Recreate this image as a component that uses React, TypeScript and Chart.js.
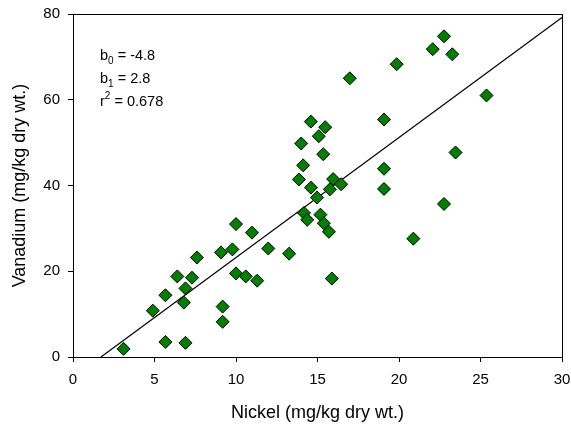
import React, { useEffect, useRef } from "react";
import { Chart, registerables } from "chart.js";

Chart.register(...registerables);

const nickel = [
  3.1, 4.9, 5.67, 5.67, 6.4, 6.9, 6.8, 6.9, 7.3, 7.6, 9.08, 9.18, 9.18, 9.78, 10.0, 10.0, 10.6,
  10.98, 11.3, 11.98, 13.26, 13.86, 14.6, 14.17, 14.37, 14.97, 15.96, 16.45, 15.76, 15.18, 15.39,
  15.7, 15.88, 19.08, 22.76, 20.88, 22.76, 22.07, 23.27, 19.86, 16.98, 25.37, 14.59, 15.47, 15.08,
  14.0, 15.35, 19.08, 23.47, 14.12, 19.08,
];
const vanadium = [
  1.9, 10.8, 14.4, 3.5, 18.8, 16.0, 12.7, 3.3, 18.5, 23.2, 24.4, 11.75, 8.2, 25.1, 31.0, 19.5, 18.8,
  29.0, 17.8, 25.3, 24.1, 41.4, 39.5, 33.6, 32.0, 37.2, 41.5, 40.3, 39.1, 33.2, 31.2,
  29.2, 18.3, 39.2, 35.7, 27.6, 74.8, 71.8, 70.6, 68.3, 65.0, 61.0, 54.9, 53.6, 51.5,
  49.8, 47.3, 55.4, 47.7, 44.7, 43.9,
];
const b0 = -4.8;
const b1 = 2.8;
const r2 = 0.678;
const fitX = [-b0 / b1, 30];
const xTicks = [0, 5, 10, 15, 20, 25, 30];
const yTicks = [0, 20, 40, 60, 80];
const statsLines = [
  { base: "b", sub: "0", sup: "", rest: " = " + b0 },
  { base: "b", sub: "1", sup: "", rest: " = " + b1 },
  { base: "r", sub: "", sup: "2", rest: " = " + r2 },
];

const FONT = "'Liberation Sans', Arial, sans-serif";

const framePlugin = {
  id: "frame",
  afterDatasetsDraw(chart: any) {
    const { ctx, chartArea } = chart;
    ctx.save();
    ctx.strokeStyle = "#000";
    ctx.lineWidth = 1;
    ctx.strokeRect(
      Math.round(chartArea.left) + 0.5,
      Math.round(chartArea.top) + 0.5,
      Math.round(chartArea.right - chartArea.left),
      Math.round(chartArea.bottom - chartArea.top)
    );
    ctx.fillStyle = "#000";
    ctx.textBaseline = "alphabetic";
    const x0 = chartArea.left + 27;
    let y = chartArea.top + 46;
    statsLines.forEach((l) => {
      let x = x0;
      ctx.font = `14.5px ${FONT}`;
      ctx.fillText(l.base, x, y);
      x += ctx.measureText(l.base).width;
      ctx.font = `10px ${FONT}`;
      if (l.sub) {
        ctx.fillText(l.sub, x, y + 4);
        x += ctx.measureText(l.sub).width;
      }
      if (l.sup) {
        ctx.fillText(l.sup, x, y - 7);
        x += ctx.measureText(l.sup).width;
      }
      ctx.font = `14.5px ${FONT}`;
      ctx.fillText(l.rest, x, y);
      y += 23;
    });
    ctx.restore();
  },
};

export default function App() {
  const ref = useRef<HTMLCanvasElement>(null);
  useEffect(() => {
    const points = nickel.map((x, i) => ({ x, y: vanadium[i] }));
    const fit = fitX.map((x) => ({ x, y: b0 + b1 * x }));
    const chart = new Chart(ref.current!, {
      type: "scatter",
      data: {
        datasets: [
          {
            data: points,
            pointStyle: "rectRot",
            pointRadius: 6.5,
            backgroundColor: "#008000",
            borderColor: "#000",
            borderWidth: 1,
            order: 1,
          },
          {
            type: "line",
            data: fit,
            borderColor: "#000",
            borderWidth: 1.2,
            pointRadius: 0,
            fill: false,
            order: 2,
          } as any,
        ],
      },
      options: {
        animation: false,
        responsive: false,
        maintainAspectRatio: false,
        layout: { padding: { top: 14, right: 9, left: 0, bottom: 0 } },
        plugins: { legend: { display: false }, tooltip: { enabled: false } },
        scales: {
          x: {
            type: "linear",
            min: 0,
            max: 30,
            afterBuildTicks: (s: any) => {
              s.ticks = xTicks.map((v) => ({ value: v }));
            },
            afterFit: (s: any) => {
              s.height = 69;
              s.paddingRight = 0;
              s.paddingLeft = 0;
            },
            grid: { drawOnChartArea: false, drawTicks: true, tickLength: 5, color: "#000" },
            border: { color: "#000" },
            ticks: { color: "#000", font: { family: FONT, size: 15 }, padding: 9, maxRotation: 0 },
            title: {
              display: true,
              text: "Nickel (mg/kg dry wt.)",
              color: "#000",
              font: { family: FONT, size: 18 },
              padding: { top: 4, bottom: 2 },
            },
          },
          y: {
            type: "linear",
            min: 0,
            max: 80,
            afterBuildTicks: (s: any) => {
              s.ticks = yTicks.map((v) => ({ value: v }));
            },
            afterFit: (s: any) => {
              s.width = 73;
              s.paddingTop = 0;
              s.paddingBottom = 0;
            },
            grid: { drawOnChartArea: false, drawTicks: true, tickLength: 5, color: "#000" },
            border: { color: "#000" },
            ticks: { color: "#000", font: { family: FONT, size: 15 }, padding: 8 },
            title: {
              display: true,
              text: "Vanadium (mg/kg dry wt.)",
              color: "#000",
              font: { family: FONT, size: 18 },
              padding: { top: 9, bottom: 4 },
            },
          },
        },
      },
      plugins: [framePlugin],
    });
    return () => chart.destroy();
  }, []);
  return (
    <div style={{ position: "absolute", left: 0, top: 0, width: 571, height: 426, background: "#fff" }}>
      <canvas ref={ref} width={571} height={426} />
    </div>
  );
}
